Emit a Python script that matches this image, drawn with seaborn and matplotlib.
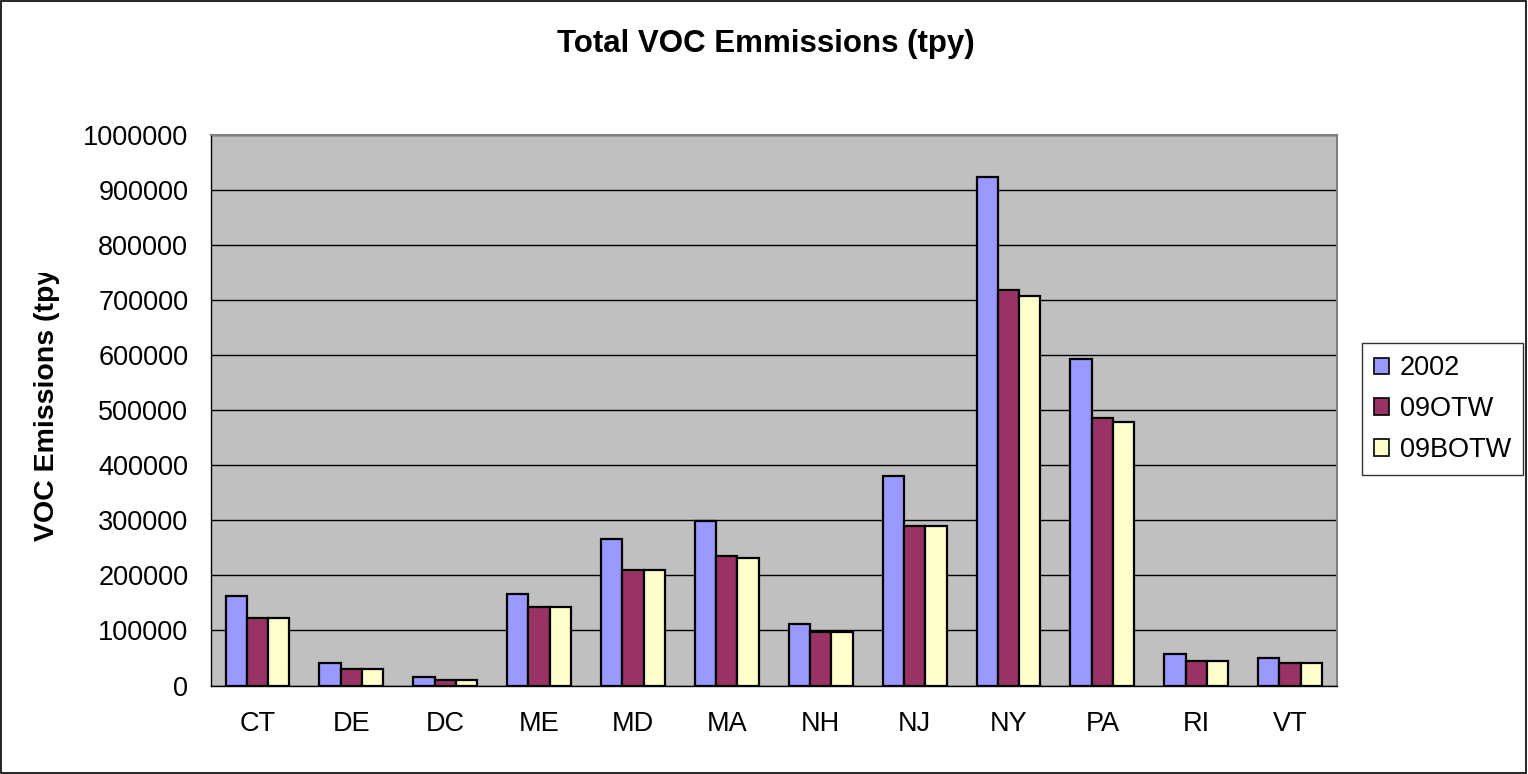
import matplotlib
matplotlib.use("Agg")
import matplotlib.pyplot as plt
import matplotlib.patches as mpatches
from matplotlib.transforms import Bbox, TransformedBbox
import numpy as np
import pandas as pd
import seaborn as sns

# data (tons per year)
states = ["CT", "DE", "DC", "ME", "MD", "MA", "NH", "NJ", "NY", "PA", "RI", "VT"]
voc_2002 = [162000, 41500, 15200, 165700, 266800, 298500, 112000, 380000, 923000, 593000, 57000, 50000]
voc_09otw = [123000, 30500, 10300, 142400, 209000, 236000, 97200, 290000, 719000, 486000, 45000, 41000]
voc_09botw = [123000, 30000, 10000, 142000, 209000, 232500, 97200, 289000, 708000, 479000, 45000, 41000]
series = ["2002", "09OTW", "09BOTW"]
colors = ["#9999FF", "#993366", "#FFFFCC"]

df = pd.DataFrame({"state": states, "2002": voc_2002, "09OTW": voc_09otw, "09BOTW": voc_09botw})
long_df = df.melt(id_vars="state", value_vars=series, var_name="scenario", value_name="tpy")

sns.set_style("white")
plt.rcParams["font.family"] = ["Liberation Sans", "DejaVu Sans"]
plt.rcParams["text.color"] = "black"
plt.rcParams["xtick.color"] = "black"
plt.rcParams["ytick.color"] = "black"

fig = plt.figure(figsize=(15.28, 7.74), dpi=100)
ax = fig.add_axes([0.1378, 0.1143, 0.7372, 0.7112])

sns.barplot(data=long_df, x="state", y="tpy", hue="scenario", hue_order=series,
            palette=colors, width=0.68, gap=0, edgecolor="black", linewidth=1.6,
            saturation=1, ax=ax)

ax.set_facecolor("#C0C0C0")
ax.set_ylim(0, 1000000)
ax.set_xlim(-0.5, len(states) - 0.5)
ax.set_yticks(np.arange(0, 1000001, 100000))
ax.set_yticklabels([f"{v:d}" for v in range(0, 1000001, 100000)])
ax.yaxis.grid(True, color="black", linewidth=1.0)
ax.set_axisbelow(True)

# category boundaries get the tick marks, labels sit at centres
ax.set_xticks(np.arange(-0.5, len(states), 1.0), minor=True)
ax.tick_params(axis="x", which="major", length=0, pad=18, labelsize=19.5, labelcolor="black")
ax.tick_params(axis="x", which="minor", length=6, width=1, color="black", direction="out")
ax.tick_params(axis="y", length=6, width=1, color="black", direction="out", pad=10,
               labelsize=19.5, labelcolor="black")

for side in ["left", "bottom"]:
    ax.spines[side].set_color("black")
    ax.spines[side].set_linewidth(1.0)
for side in ["top", "right"]:
    ax.spines[side].set_color("#808080")
    ax.spines[side].set_linewidth(1.5)

ax.set_xlabel("")
ax.set_ylabel("")

# y label, cut off at the top like the original
ylab = fig.text(47.5 / 1528, 1 - 400 / 774, "VOC Emissions (tpy)", rotation=90,
                ha="center", va="center", fontsize=20.5, fontweight="bold")
ylab.set_clip_box(TransformedBbox(Bbox([[0, 0], [1, 1 - 273 / 774]]), fig.transFigure))
ylab.set_clip_on(True)

fig.text(766 / 1528, 1 - 44 / 774, "Total VOC Emmissions (tpy)", ha="center", va="center",
         fontsize=22.5, fontweight="bold")

handles = [mpatches.Patch(facecolor=c, edgecolor="black", linewidth=1.2) for c in colors]
leg = ax.legend(handles, series, loc="upper left", bbox_to_anchor=(1.0222, 0.622),
                fontsize=19.5, frameon=True, fancybox=False, shadow=False,
                handlelength=0.55, handleheight=0.55, handletextpad=0.4,
                borderpad=0.45, labelspacing=0.55, borderaxespad=0)
leg.get_frame().set_edgecolor("black")
leg.get_frame().set_linewidth(1.0)

# thin frame around the whole chart area
fig.patches.append(mpatches.Rectangle((0.0005, 0.001), 0.998, 0.998, transform=fig.transFigure,
                                      fill=False, edgecolor="black", linewidth=1.2))

fig.savefig("out.png", dpi=100, facecolor="white")
